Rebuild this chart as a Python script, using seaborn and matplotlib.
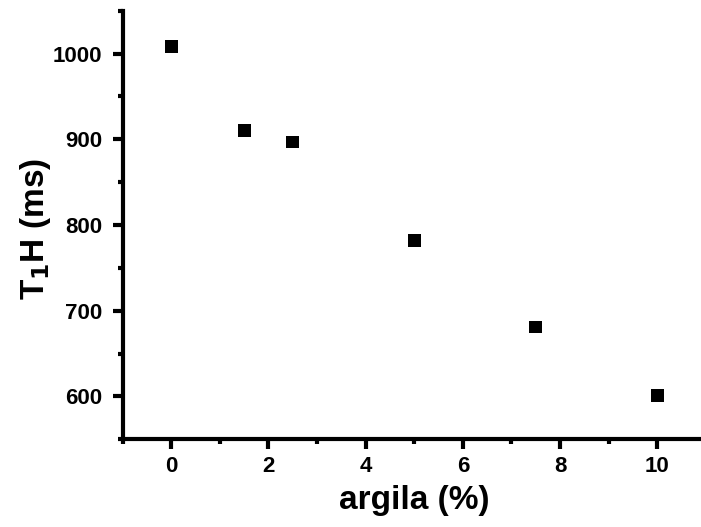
import matplotlib
matplotlib.use("Agg")
import matplotlib.pyplot as plt
from matplotlib.ticker import MultipleLocator
import seaborn as sns
import pandas as pd

# data
argila = [0, 1.5, 2.5, 5, 7.5, 10]
t1h = [1008, 910, 897, 782, 681, 601]

x_ticks = [0, 2, 4, 6, 8, 10]
y_ticks = [600, 700, 800, 900, 1000]

sns.set_style("ticks")
plt.rcParams["font.family"] = ["Liberation Sans", "DejaVu Sans"]
plt.rcParams["font.weight"] = "bold"
plt.rcParams["text.color"] = "black"
plt.rcParams["axes.labelcolor"] = "black"
plt.rcParams["xtick.color"] = "black"
plt.rcParams["ytick.color"] = "black"
plt.rcParams["xtick.labelcolor"] = "black"
plt.rcParams["ytick.labelcolor"] = "black"

df = pd.DataFrame({"argila": argila, "t1h": t1h})

fig = plt.figure(figsize=(7.01, 5.27), dpi=100)
ax = fig.add_axes([0.175, 0.1665, 0.832, 0.813])

sns.scatterplot(data=df, x="argila", y="t1h", marker="s", s=85,
                color="black", edgecolor="none", linewidth=0, ax=ax,
                legend=False)

ax.set_xlim(-1, 11)
ax.set_ylim(550, 1050)
ax.set_xticks(x_ticks)
ax.set_yticks(y_ticks)
ax.xaxis.set_minor_locator(MultipleLocator(1))
ax.yaxis.set_minor_locator(MultipleLocator(50))

for s in ["top", "right"]:
    ax.spines[s].set_visible(False)
for s in ["left", "bottom"]:
    ax.spines[s].set_linewidth(3)
    ax.spines[s].set_color("black")

ax.tick_params(axis="both", which="major", length=7.5, width=3,
               direction="out", color="black", labelcolor="black",
               labelsize=16)
ax.tick_params(axis="both", which="minor", length=3.5, width=3,
               direction="out", color="black")
ax.tick_params(axis="x", which="major", pad=4.5)
ax.tick_params(axis="y", which="major", pad=7)
for lab in ax.get_xticklabels() + ax.get_yticklabels():
    lab.set_fontweight("bold")

ax.set_xlabel("argila (%)", fontsize=24, fontweight="bold", labelpad=6,
              color="black")
ax.set_ylabel(r"T$_\mathbf{1}$H (ms)", fontsize=24, fontweight="bold",
              color="black")
ax.yaxis.set_label_coords(-0.12, 0.49)

fig.savefig("out.png", dpi=100)
